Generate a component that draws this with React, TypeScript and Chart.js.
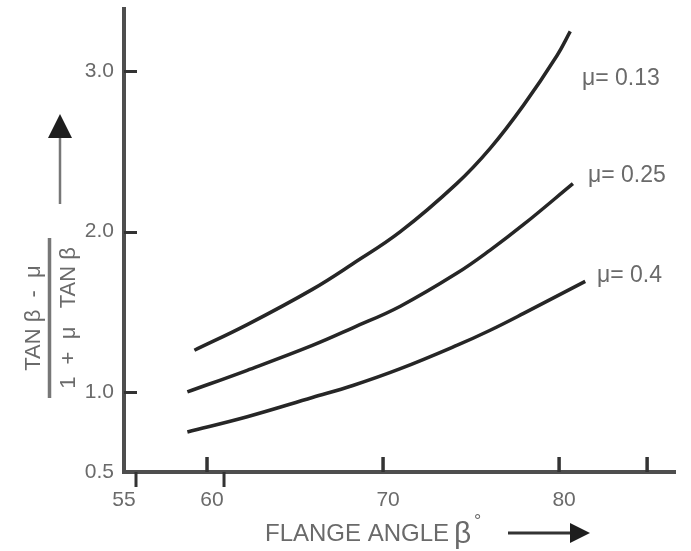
import React, { useEffect, useRef } from "react";
import { Chart, registerables } from "chart.js";

Chart.register(...registerables);

// Flange angle (degrees) and L/V ratio
const angles013 = [59.0, 62.0, 65.7, 68.0, 70.7, 73.9, 75.8, 77.7, 79.6, 80.35];
const ratio013 = [1.26, 1.42, 1.64, 1.8, 2.0, 2.3, 2.52, 2.79, 3.1, 3.25];

const angles025 = [58.6, 62.0, 65.7, 68.0, 70.7, 73.9, 75.8, 77.7, 80.5];
const ratio025 = [1.0, 1.135, 1.29, 1.4, 1.535, 1.74, 1.885, 2.045, 2.3];

const angles040 = [58.6, 62.0, 65.7, 68.0, 70.7, 73.9, 75.8, 77.7, 81.2];
const ratio040 = [0.75, 0.845, 0.965, 1.04, 1.145, 1.29, 1.385, 1.49, 1.69];

const seriesLabels = ["\u03bc= 0.13", "\u03bc= 0.25", "\u03bc= 0.4"];

const xTickValues = [55, 60, 70, 80, 85];
const xTickLabels = ["55", "60", "70", "80", ""];
const yTickValues = [0.5, 1.0, 2.0, 3.0];
const yTickLabels = ["0.5", "1.0", "2.0", "3.0"];

const xTitle = "FLANGE ANGLE";
const xTitleSymbol = "\u03b2";
const xTitleSup = "\u00b0";
const yTitleNumerator = "TAN \u03b2  -  \u03bc";
const yTitleDenominator = "1  +  \u03bc   TAN \u03b2";

const TEXT = "#6a6a6a";
const INK = "#262626";
const AXIS = "#4e4e4e";
const FONT = "'Liberation Sans', Arial, sans-serif";

const toPoints = (xs: number[], ys: number[]) => xs.map((x, i) => ({ x, y: ys[i] }));

const decorations = {
  id: "decorations",
  afterDraw(chart: any) {
    const ctx = chart.ctx as CanvasRenderingContext2D;
    const xs = chart.scales.x;
    const ys = chart.scales.y;
    const area = chart.chartArea;
    ctx.save();

    // y tick marks (inside)
    ctx.strokeStyle = "#333";
    ctx.lineWidth = 3;
    [1, 2, 3].forEach((v) => {
      const y = Math.round(ys.getPixelForValue(v)) + 0.5;
      ctx.beginPath();
      ctx.moveTo(area.left, y);
      ctx.lineTo(area.left + 13, y);
      ctx.stroke();
    });

    // x tick marks (upward)
    ctx.lineWidth = 3.5;
    [60, 70, 80, 85].forEach((v) => {
      const x = xs.getPixelForValue(v) - 5;
      ctx.beginPath();
      ctx.moveTo(x, area.bottom);
      ctx.lineTo(x, area.bottom - 15);
      ctx.stroke();
    });
    // x tick marks (downward)
    ctx.lineWidth = 3;
    [55, 60].forEach((v) => {
      const x = xs.getPixelForValue(v) + 12;
      ctx.beginPath();
      ctx.moveTo(x, area.bottom);
      ctx.lineTo(x, area.bottom + 15);
      ctx.stroke();
    });

    // series labels
    ctx.fillStyle = TEXT;
    ctx.font = `23px ${FONT}`;
    ctx.textAlign = "left";
    ctx.textBaseline = "middle";
    ctx.fillText(seriesLabels[0], 582, 79);
    ctx.fillText(seriesLabels[1], 588, 176);
    ctx.fillText(seriesLabels[2], 597, 276);

    // x title
    ctx.textBaseline = "alphabetic";
    ctx.font = `24px ${FONT}`;
    ctx.fillText(xTitle, 265, 541);
    ctx.font = `30px ${FONT}`;
    ctx.fillText(xTitleSymbol, 454, 543);
    ctx.font = `18px ${FONT}`;
    ctx.fillText(xTitleSup, 474, 527);

    // right arrow
    ctx.strokeStyle = "#333";
    ctx.lineWidth = 3;
    ctx.beginPath();
    ctx.moveTo(508, 533);
    ctx.lineTo(574, 533);
    ctx.stroke();
    ctx.fillStyle = "#1e1e1e";
    ctx.beginPath();
    ctx.moveTo(590, 533);
    ctx.lineTo(570, 523);
    ctx.lineTo(570, 543);
    ctx.closePath();
    ctx.fill();

    // up arrow
    ctx.strokeStyle = "#777";
    ctx.lineWidth = 2.5;
    ctx.beginPath();
    ctx.moveTo(60, 204);
    ctx.lineTo(60, 135);
    ctx.stroke();
    ctx.fillStyle = "#1e1e1e";
    ctx.beginPath();
    ctx.moveTo(60, 114);
    ctx.lineTo(48, 138);
    ctx.lineTo(72, 138);
    ctx.closePath();
    ctx.fill();

    // y title fraction (rotated)
    ctx.save();
    ctx.translate(49.5, 318);
    ctx.rotate(-Math.PI / 2);
    ctx.strokeStyle = "#777";
    ctx.lineWidth = 3.5;
    ctx.beginPath();
    ctx.moveTo(-80, 0);
    ctx.lineTo(80, 0);
    ctx.stroke();
    ctx.fillStyle = TEXT;
    ctx.font = `22px ${FONT}`;
    ctx.textAlign = "center";
    ctx.textBaseline = "middle";
    ctx.fillText(yTitleNumerator, 0, -16);
    ctx.fillText(yTitleDenominator, 0, 19);
    ctx.restore();

    ctx.restore();
  },
};

export default function App() {
  const ref = useRef<HTMLCanvasElement | null>(null);

  useEffect(() => {
    if (!ref.current) return;
    const lineStyle = {
      borderColor: INK,
      borderWidth: 3.5,
      pointRadius: 0,
      tension: 0.4,
      fill: false,
    };
    const chart = new Chart(ref.current, {
      type: "line",
      data: {
        datasets: [
          { label: seriesLabels[0], data: toPoints(angles013, ratio013), ...lineStyle },
          { label: seriesLabels[1], data: toPoints(angles025, ratio025), ...lineStyle },
          { label: seriesLabels[2], data: toPoints(angles040, ratio040), ...lineStyle },
        ],
      },
      options: {
        animation: false,
        responsive: false,
        layout: { padding: { left: 0, right: 16, top: 9, bottom: 0 } },
        plugins: { legend: { display: false }, tooltip: { enabled: false } },
        scales: {
          x: {
            type: "linear",
            min: 55,
            max: 86.3,
            afterBuildTicks: (s: any) => {
              s.ticks = xTickValues.map((v) => ({ value: v }));
            },
            afterFit: (s: any) => {
              s.height = 79;
              s.paddingLeft = 0;
              s.paddingRight = 0;
            },
            ticks: {
              autoSkip: false,
              maxRotation: 0,
              padding: 16,
              color: TEXT,
              font: { family: FONT, size: 21 },
              callback: (v: any) => {
                const i = xTickValues.indexOf(Number(v));
                return i >= 0 ? xTickLabels[i] : "";
              },
            },
            grid: { display: false, drawTicks: false },
            border: { display: true, color: AXIS, width: 4 },
          },
          y: {
            type: "linear",
            min: 0.5,
            max: 3.39,
            afterBuildTicks: (s: any) => {
              s.ticks = yTickValues.map((v) => ({ value: v }));
            },
            afterFit: (s: any) => {
              s.width = 124;
              s.paddingTop = 0;
              s.paddingBottom = 0;
            },
            ticks: {
              padding: 10,
              color: TEXT,
              font: { family: FONT, size: 21 },
              callback: (v: any) => {
                const i = yTickValues.indexOf(Number(v));
                return i >= 0 ? yTickLabels[i] : "";
              },
            },
            grid: { display: false, drawTicks: false },
            border: { display: true, color: AXIS, width: 4 },
          },
        },
      },
      plugins: [decorations],
    });
    return () => chart.destroy();
  }, []);

  return (
    <div style={{ position: "absolute", left: 0, top: 0, width: 691, height: 551, background: "#fff" }}>
      <canvas ref={ref} width={691} height={551} style={{ display: "block" }} />
    </div>
  );
}
